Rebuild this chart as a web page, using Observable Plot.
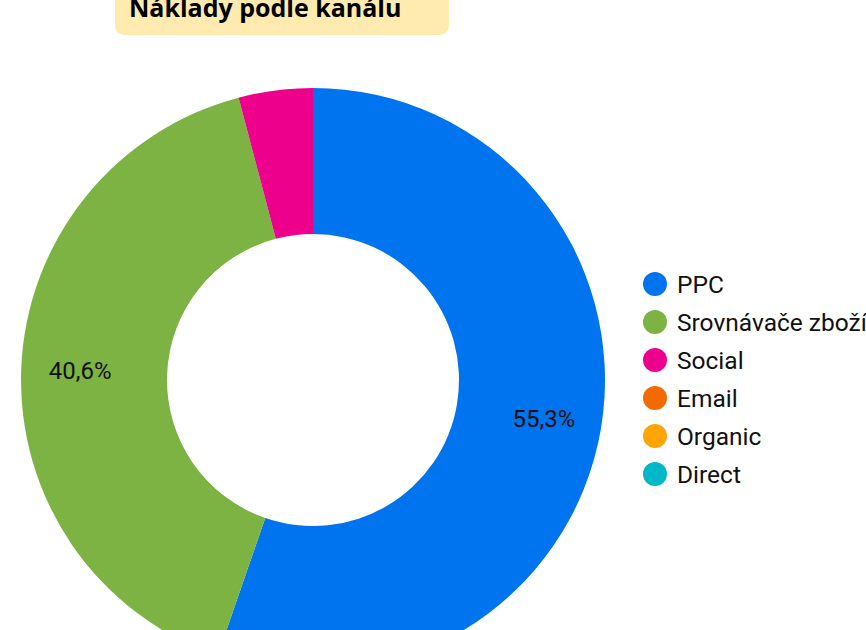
<!DOCTYPE html>
<html>
<head>
<meta charset="utf-8">
<script src="https://cdn.jsdelivr.net/npm/d3@7"></script>
<script src="https://cdn.jsdelivr.net/npm/@observablehq/plot@0.6"></script>
<style>
  html, body { margin: 0; padding: 0; overflow: hidden; background: #fff; width: 866px; height: 630px; }
  #wrap { position: relative; width: 866px; height: 630px; overflow: hidden; font-family: Roboto, sans-serif; }
  #title { position: absolute; left: 115px; top: -20px; width: 334px; height: 55px; box-sizing: border-box;
    background: #ffebb0; border-radius: 9px; }
  #title span { position: absolute; left: 14px; top: 15px; font-family: "Open Sans", sans-serif;
    font-weight: 700; font-size: 25px; line-height: 25px; color: #000; white-space: nowrap; }
  #legend { position: absolute; left: 643px; top: 265px; }
  .item { display: flex; align-items: center; height: 38px; white-space: nowrap; }
  .sw { width: 24px; height: 24px; border-radius: 50%; margin-right: 10px; flex: none; }
  .lb { font-size: 24.5px; color: #111; }
  svg { overflow: hidden; }
</style>
</head>
<body>
<div id="wrap">
  <div id="chart"></div>
  <div id="title"><span>Náklady podle kanálu</span></div>
  <div id="legend"></div>
</div>
<script>
const channels = ["PPC", "Srovnávače zboží", "Social", "Email", "Organic", "Direct"];
const shares = [55.3, 40.6, 4.1, 0, 0, 0];
const colors = ["#0073ee", "#7db343", "#ec008c", "#f36b00", "#ffa400", "#00b7c7"];
const labelText = ["55,3%", "40,6%", "", "", "", ""];

const data = channels.map((c, i) => ({channel: c, value: shares[i], label: labelText[i]}));
const pie = d3.pie().sort(null).value(d => d.value)(data);
const inner = 0.5, labelR = 0.80;
pie.forEach(p => {
  const mid = (p.startAngle + p.endAngle) / 2;
  p.lx = labelR * Math.sin(mid);
  p.ly = labelR * Math.cos(mid);
});

function arcRender(index, scales, values, dimensions, context) {
  const g = d3.create("svg:g");
  const cx = scales.x(0), cy = scales.y(0);
  const R = scales.x(1) - scales.x(0);
  const arc = d3.arc().innerRadius(R * inner).outerRadius(R);
  for (const i of index) {
    const p = pie[i];
    if (p.endAngle - p.startAngle <= 0) continue;
    g.append("path")
      .attr("transform", `translate(${cx},${cy})`)
      .attr("d", arc({startAngle: p.startAngle, endAngle: p.endAngle}))
      .attr("fill", values.fill[i]);
  }
  return g.node();
}

const plot = Plot.plot({
  width: 866,
  height: 630,
  margin: 0,
  x: {domain: [-1, 1], range: [21, 605], axis: null},
  y: {domain: [-1, 1], range: [672, 88], axis: null},
  color: {domain: channels, range: colors},
  style: {fontFamily: "Roboto, sans-serif", overflow: "hidden"},
  marks: [
    Plot.dot(pie, {x: () => 0, y: () => 0, fill: d => d.data.channel, render: arcRender}),
    Plot.text(pie.filter(p => p.data.label), {x: "lx", y: "ly", text: d => d.data.label,
      fontSize: 24, fill: "#111", textAnchor: "middle", lineAnchor: "middle"})
  ]
});
document.getElementById("chart").appendChild(plot);

const legend = document.getElementById("legend");
channels.forEach((c, i) => {
  const it = document.createElement("div");
  it.className = "item";
  it.innerHTML = `<div class="sw" style="background:${colors[i]}"></div><div class="lb">${c}</div>`;
  legend.appendChild(it);
});
</script>
</body>
</html>
